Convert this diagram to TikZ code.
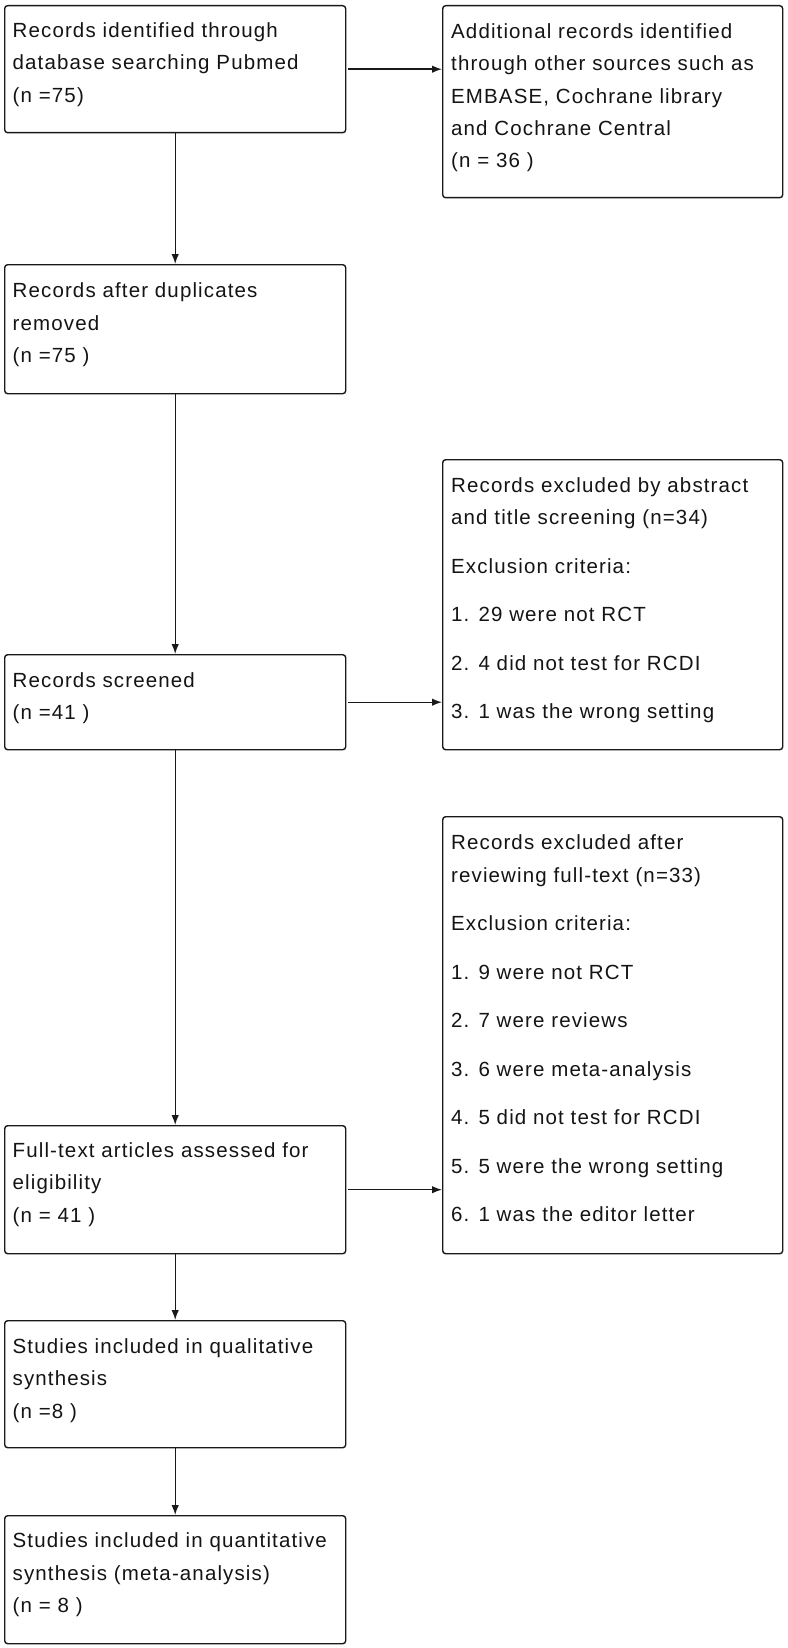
\documentclass[tikz,border=0pt]{standalone}
\usepackage{fontspec}
\setmainfont{Liberation Sans}[LetterSpace=5.5]
\usetikzlibrary{arrows.meta}
\begin{document}
\begin{tikzpicture}[x=1pt,y=-1pt,
  box/.style={draw=black!90, line width=1.4pt, rounded corners=3pt, anchor=north west, inner sep=0pt},
  lbox/.style={box, minimum width=341pt},
  rbox/.style={box, minimum width=340pt},
  txt/.style={anchor=base west, align=left, inner sep=0pt, text=black!92,
    font=\fontsize{20.5pt}{32.5pt}\selectfont},
  arr/.style={draw=black!90, line width=1.4pt, -{Latex[length=10pt,width=7.5pt]}}]
\useasboundingbox (0,0) rectangle (787,1648);
\fill[white] (0,0) rectangle (787,1648);

% boxes
\node[lbox, minimum height=127pt] (b1) at (4,5) {};
\node[rbox, minimum height=192pt] (bA) at (442,5) {};
\node[lbox, minimum height=129pt] (b2) at (4,264) {};
\node[rbox, minimum height=290pt] (e1) at (442,459) {};
\node[lbox, minimum height=95pt] (b3) at (4,654) {};
\node[rbox, minimum height=437pt] (e2) at (442,816) {};
\node[lbox, minimum height=128pt] (b4) at (4,1125) {};
\node[lbox, minimum height=127pt] (b5) at (4,1320) {};
\node[lbox, minimum height=128pt] (b6) at (4,1515) {};

% texts (anchored at the baseline of their last line)
\node[txt] (t1) at (12.5,102.5) {Records identified through\\database searching Pubmed\\(n =75)};
\node[txt] (tA) at (451,168) {Additional records identified\\through other sources such as\\EMBASE, Cochrane library\\and Cochrane Central\\(n = 36 )};
\node[txt] (t2) at (12.5,362.5) {Records after duplicates\\removed\\(n =75 )};
\node[txt] (te1) at (451,718.5) {Records excluded by abstract\\and title screening (n=34)\\[16pt]Exclusion criteria:\\[16pt]1. 29 were not RCT\\[16pt]2. 4 did not test for RCDI\\[16pt]3. 1 was the wrong setting};
\node[txt] (t3) at (12.5,719.5) {Records screened\\(n =41 )};
\node[txt] (te2) at (451,1221.5) {Records excluded after\\reviewing full-text (n=33)\\[16pt]Exclusion criteria:\\[16pt]1. 9 were not RCT\\[16pt]2. 7 were reviews\\[16pt]3. 6 were meta-analysis\\[16pt]4. 5 did not test for RCDI\\[16pt]5. 5 were the wrong setting\\[16pt]6. 1 was the editor letter};
\node[txt] (t4) at (12.5,1222) {Full-text articles assessed for\\eligibility\\(n = 41 )};
\node[txt] (t5) at (12.5,1418) {Studies included in qualitative\\synthesis\\(n =8 )};
\node[txt] (t6) at (12.5,1612.5) {Studies included in quantitative\\synthesis (meta-analysis)\\(n = 8 )};

% connectors
\draw[arr, shorten <=2pt] (b1) -- (bA.west |- b1);
\draw[arr] (b1) -- (b2);
\draw[arr] (b2) -- (b3);
\draw[arr, shorten <=2pt] (b3) -- (e1.west |- b3);
\draw[arr] (b3) -- (b4);
\draw[arr, shorten <=2pt] (b4) -- (e2.west |- b4);
\draw[arr] (b4) -- (b5);
\draw[arr] (b5) -- (b6);
\end{tikzpicture}
\end{document}
